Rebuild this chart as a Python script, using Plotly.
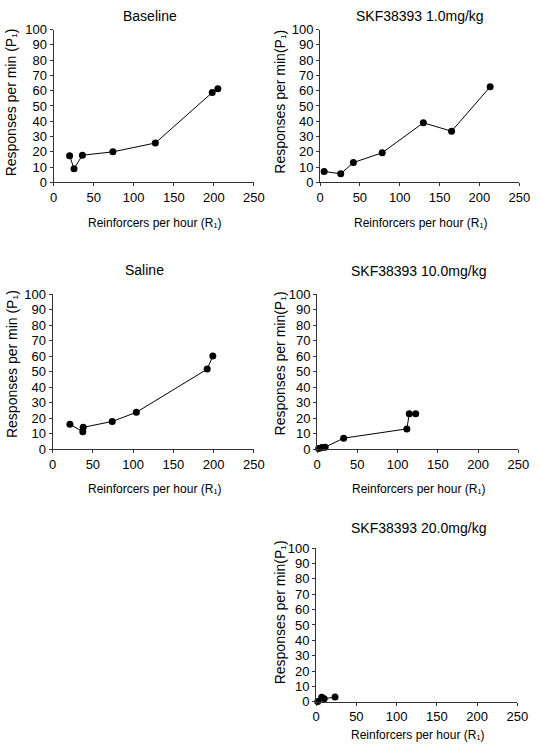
import plotly.graph_objects as go

W, H = 542, 753

# ---- data ----
titles = ["Baseline", "SKF38393 1.0mg/kg", "Saline", "SKF38393 10.0mg/kg", "SKF38393 20.0mg/kg"]
ytitles = ["Responses per min (P\u2081)", "Responses per min(P\u2081)",
           "Responses per min (P\u2081)", "Responses per min(P\u2081)",
           "Responses per min(P\u2081)"]
xtitle = "Reinforcers per hour (R\u2081)"

baseline_x = [20, 25.5, 36, 74, 127, 198, 205]
baseline_y = [17.5, 9, 17.8, 20, 25.8, 58.8, 61.3]

skf1_x = [5.2, 26, 41.9, 78, 129.6, 165, 213.4]
skf1_y = [7.2, 5.6, 13, 19.4, 39, 33.5, 62.5]

saline_x = [21.5, 37.5, 38, 74, 104, 192, 199]
saline_y = [16, 11.2, 14, 17.8, 23.7, 51.6, 60]

skf10_x = [2, 6, 10, 33, 111.5, 114.5, 122.5]
skf10_y = [0.3, 1, 1.2, 7, 13, 22.8, 22.8]

skf20_x = [2, 7, 10, 23.5]
skf20_y = [0.2, 3, 2, 3.2]

xs = [baseline_x, skf1_x, saline_x, skf10_x, skf20_x]
ys = [baseline_y, skf1_y, saline_y, skf10_y, skf20_y]

x_ticks = [0, 50, 100, 150, 200, 250]
y_ticks = list(range(0, 101, 10))

# ---- layout (pixel boxes: x0, x1, ytop, ybottom) ----
boxes = [(51, 257, 23, 179), (325, 530, 23, 179), (50, 257, 293, 451),
         (322, 529, 293, 451), (321, 528, 552, 709)]
title_pos = [(150, 9), (428, 9.5), (145, 268), (426, 269), (426, 531.5)]
ytitle_pos = [(7.5, 97), (283.5, 97), (7.5, 364), (283.5, 364), (283.5, 618)]
xtitle_gap = [41, 41, 41, 41, 34]

FONT = "Liberation Sans, Arial, sans-serif"

fig = go.Figure()
annotations = []
for i in range(5):
    n = "" if i == 0 else str(i + 1)
    fig.add_trace(go.Scatter(
        x=xs[i], y=ys[i], mode="lines+markers",
        line=dict(color="black", width=1),
        marker=dict(color="black", size=7),
        cliponaxis=False, showlegend=False,
        xaxis="x" + n, yaxis="y" + n))
    x0, x1, yt, yb = boxes[i]
    common = dict(showline=True, linecolor="#333", linewidth=1, ticks="outside",
                  ticklen=3, tickcolor="#333", showgrid=False, zeroline=False,
                  tickfont=dict(family=FONT, size=13, color="black"))
    fig.layout["xaxis" + n] = dict(domain=[x0 / W, x1 / W], range=[0, 250],
                                   tickvals=x_ticks, anchor="y" + n, **common)
    fig.layout["yaxis" + n] = dict(domain=[1 - yb / H, 1 - yt / H], range=[0, 100],
                                   tickvals=y_ticks, anchor="x" + n, **common)
    tx, ty = title_pos[i]
    annotations.append(dict(text=titles[i], x=tx / W, y=1 - ty / H, xref="paper", yref="paper",
                            showarrow=False, xanchor="center", yanchor="middle",
                            font=dict(family=FONT, size=14, color="black")))
    yx, yy = ytitle_pos[i]
    annotations.append(dict(text=ytitles[i], x=yx / W, y=1 - yy / H, xref="paper", yref="paper",
                            showarrow=False, xanchor="center", yanchor="middle", textangle=-90,
                            font=dict(family=FONT, size=14, color="black")))
    annotations.append(dict(text=xtitle, x=((x0 + x1) / 2 + 1) / W, y=1 - (yb + xtitle_gap[i]) / H,
                            xref="paper", yref="paper", showarrow=False,
                            xanchor="center", yanchor="middle",
                            font=dict(family=FONT, size=12, color="black")))

fig.update_layout(width=W, height=H, margin=dict(l=0, r=0, t=0, b=0),
                  paper_bgcolor="white", plot_bgcolor="white",
                  annotations=annotations)

fig.write_html("out.html", config={"displayModeBar": False},
               post_script="document.body.style.margin='0';")
